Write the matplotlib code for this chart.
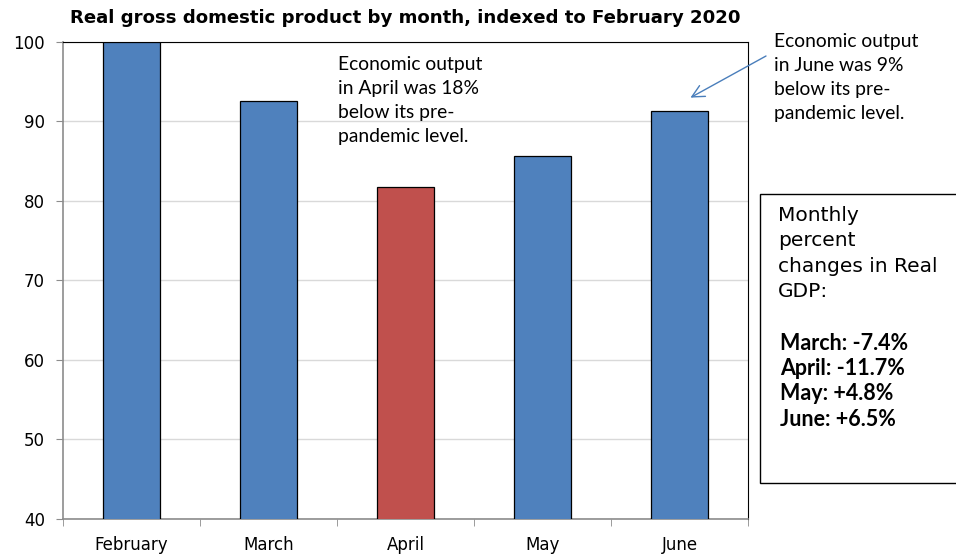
import matplotlib

matplotlib.use("Agg")
import matplotlib.pyplot as plt
from matplotlib.patches import Rectangle

months = ["February", "March", "April", "May", "June"]
gdp_index = [100.0, 92.6, 81.8, 85.7, 91.3]
bar_colors = ["#4F81BD", "#4F81BD", "#C0504D", "#4F81BD", "#4F81BD"]
y_ticks = [40, 50, 60, 70, 80, 90, 100]
monthly_changes = ["March: -7.4%", "April: -11.7%", "May: +4.8%", "June: +6.5%"]

NOTE_FONT = "Lato"

fig = plt.figure(figsize=(9.56, 5.54), dpi=100)
ax = fig.add_axes([0.0659, 0.0632, 0.7165, 0.861])

x = range(len(months))
ax.bar(x, gdp_index, width=0.41, color=bar_colors, edgecolor="black",
       linewidth=0.9, zorder=3)

ax.set_xlim(-0.5, len(months) - 0.5)
ax.set_ylim(40, 100)
ax.set_yticks(y_ticks)
ax.set_yticklabels([str(v) for v in y_ticks], fontsize=12)
ax.yaxis.grid(True, color="#D9D9D9", linewidth=1.0, zorder=0)

# category labels centred on bars, tick marks at the boundaries
ax.set_xticks(list(x))
ax.set_xticklabels(months, fontsize=12)
ax.tick_params(axis="x", length=0, pad=12)
ax.set_xticks([i - 0.5 for i in range(len(months) + 1)], minor=True)
ax.tick_params(axis="x", which="minor", length=5, color="#8C8C8C")
ax.tick_params(axis="y", length=5, color="#8C8C8C", pad=8)

ax.spines["left"].set_color("#8C8C8C")
ax.spines["bottom"].set_color("#8C8C8C")
ax.spines["left"].set_linewidth(1.2)
ax.spines["bottom"].set_linewidth(1.2)
ax.spines["top"].set_color("black")
ax.spines["right"].set_color("black")

fig.text(0.424, 0.967, "Real gross domestic product by month, indexed to February 2020",
         ha="center", va="center", fontsize=13.1, fontweight="bold")

fig.text(338 / 956, 1 - 56 / 554,
         "Economic output\nin April was 18%\nbelow its pre-\npandemic level.",
         ha="left", va="top", fontsize=13.9, family=NOTE_FONT, linespacing=1.5)

fig.text(774 / 956, 1 - 33 / 554,
         "Economic output\nin June was 9%\nbelow its pre-\npandemic level.",
         ha="left", va="top", fontsize=13.9, family=NOTE_FONT, linespacing=1.5)

ax.annotate("", xy=(4.08, 93.0), xycoords="data",
            xytext=(766 / 956, 1 - 56 / 554), textcoords="figure fraction",
            arrowprops=dict(arrowstyle="->", color="#4A7EBB", lw=1.0,
                            mutation_scale=22, shrinkA=0, shrinkB=0))

# side box with the monthly changes
fig.patches.append(Rectangle((760 / 956, 1 - 483 / 554), 0.3, 289 / 554,
                             transform=fig.transFigure, facecolor="white",
                             edgecolor="black", linewidth=1.0))
fig.text(778 / 956, 1 - 206 / 554,
         "Monthly\npercent\nchanges in Real\nGDP:",
         ha="left", va="top", fontsize=14.5, linespacing=1.42)
fig.text(780 / 956, 1 - 333 / 554, "\n".join(monthly_changes),
         ha="left", va="top", fontsize=15.5, fontweight="bold",
         family=NOTE_FONT, linespacing=1.25)

fig.savefig("out.png", dpi=100)
